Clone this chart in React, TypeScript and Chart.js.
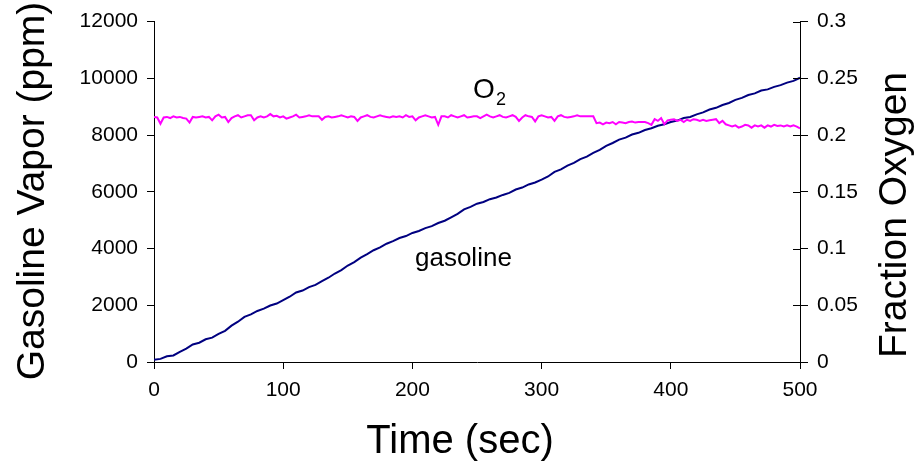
import React, { useEffect, useRef } from "react";
import { Chart, registerables } from "chart.js";

Chart.register(...registerables);

// Time axis (seconds)
const timeGasoline: number[] = Array.from({ length: 101 }, (_, i) => i * 5);
const gasolinePpm: number[] = [
  80, 110, 200, 230, 360, 470, 620, 680, 800, 860,
  990, 1100, 1280, 1420, 1590, 1680, 1800, 1880, 1990, 2060,
  2180, 2300, 2450, 2520, 2640, 2720, 2850, 2970, 3120, 3240,
  3400, 3520, 3680, 3800, 3940, 4040, 4170, 4260, 4370, 4440,
  4550, 4620, 4720, 4790, 4900, 4980, 5100, 5220, 5380, 5470,
  5580, 5640, 5740, 5800, 5890, 5960, 6080, 6150, 6260, 6330,
  6430, 6540, 6700, 6790, 6920, 7020, 7150, 7240, 7370, 7480,
  7620, 7720, 7840, 7910, 8020, 8080, 8180, 8240, 8330, 8380,
  8460, 8510, 8600, 8640, 8730, 8800, 8900, 8960, 9060, 9130,
  9240, 9310, 9410, 9470, 9570, 9610, 9700, 9760, 9850, 9910,
  10020,
];

const timeOxygen: number[] = Array.from({ length: 201 }, (_, i) => i * 2.5);
const fractionOxygen: number[] = [
  0.216, 0.2155, 0.210, 0.2155, 0.216, 0.215, 0.2165, 0.2155, 0.216, 0.215,
  0.2145, 0.211, 0.216, 0.2155, 0.216, 0.2165, 0.2155, 0.216, 0.213, 0.2165,
  0.218, 0.2155, 0.216, 0.2115, 0.215, 0.2165, 0.2175, 0.2155, 0.2165, 0.2175,
  0.2175, 0.213, 0.2155, 0.2165, 0.2155, 0.2165, 0.2185, 0.2165, 0.217, 0.2155,
  0.2165, 0.2145, 0.2155, 0.2165, 0.218, 0.2155, 0.216, 0.2165, 0.2175, 0.2165,
  0.2165, 0.2165, 0.2135, 0.216, 0.2165, 0.2155, 0.216, 0.2165, 0.2175, 0.2165,
  0.2155, 0.2165, 0.216, 0.2125, 0.2155, 0.2165, 0.2175, 0.216, 0.2155, 0.2165,
  0.2175, 0.2165, 0.216, 0.2155, 0.2165, 0.216, 0.2165, 0.2155, 0.2175, 0.216,
  0.2165, 0.213, 0.2155, 0.2165, 0.2175, 0.2165, 0.2155, 0.216, 0.209, 0.2165,
  0.2165, 0.2155, 0.2175, 0.2165, 0.2155, 0.2165, 0.2175, 0.2155, 0.216, 0.2165,
  0.2165, 0.215, 0.2165, 0.218, 0.2165, 0.2155, 0.2165, 0.2175, 0.216, 0.2155,
  0.2165, 0.2175, 0.216, 0.2125, 0.2155, 0.2175, 0.2165, 0.216, 0.212, 0.2165,
  0.2175, 0.2165, 0.2155, 0.216, 0.2125, 0.2165, 0.2175, 0.216, 0.2155, 0.216,
  0.2165, 0.2175, 0.2165, 0.2165, 0.2165, 0.2165, 0.2165, 0.2105, 0.211, 0.2095,
  0.211, 0.2105, 0.2115, 0.2095, 0.2115, 0.211, 0.2105, 0.2115, 0.212, 0.211,
  0.2115, 0.2115, 0.2115, 0.2105, 0.209, 0.214, 0.2125, 0.215, 0.2095, 0.213,
  0.2135, 0.214, 0.2125, 0.2135, 0.2115, 0.2135, 0.2125, 0.214, 0.2135, 0.2125,
  0.2135, 0.2125, 0.213, 0.2135, 0.214, 0.2105, 0.2125, 0.2095, 0.2085, 0.2075,
  0.2085, 0.2065, 0.2075, 0.209, 0.2085, 0.2065, 0.2085, 0.2075, 0.2085, 0.2065,
  0.2085, 0.2075, 0.209, 0.208, 0.2085, 0.2075, 0.2085, 0.2075, 0.2085, 0.2075,
  0.206,
];

const xTickLabels = ["0", "100", "200", "300", "400", "500"];
const yTickLabels = ["0", "2000", "4000", "6000", "8000", "10000", "12000"];
const y1TickLabels = ["0", "0.05", "0.1", "0.15", "0.2", "0.25", "0.3"];

const xTitle = "Time (sec)";
const yTitle = "Gasoline Vapor (ppm)";
const y1Title = "Fraction Oxygen";

const FONT = "'Liberation Sans', Arial, sans-serif";

export default function App() {
  const ref = useRef<HTMLCanvasElement | null>(null);

  useEffect(() => {
    document.body.style.margin = "0";
    const canvas = ref.current;
    if (!canvas) return;

    const overlay = {
      id: "overlay",
      afterDraw(chart: any) {
        const ctx = chart.ctx;
        const { chartArea } = chart;
        const x = chart.scales.x;
        const y = chart.scales.y;
        const y1 = chart.scales.y1;
        ctx.save();
        // inward ticks on right axis
        ctx.strokeStyle = "#000";
        ctx.lineWidth = 1;
        y1.ticks.forEach((t: any) => {
          const py = Math.round(y1.getPixelForValue(t.value)) + 0.5;
          ctx.beginPath();
          ctx.moveTo(chartArea.right - 7, py);
          ctx.lineTo(chartArea.right, py);
          ctx.stroke();
        });
        ctx.fillStyle = "#000";
        // series labels
        ctx.textBaseline = "alphabetic";
        ctx.textAlign = "left";
        ctx.font = `28px ${FONT}`;
        const ox = x.getPixelForValue(247);
        const oy = y1.getPixelForValue(0.2325);
        ctx.fillText("O", ox, oy);
        const ow = ctx.measureText("O").width;
        ctx.font = `18px ${FONT}`;
        ctx.fillText("2", ox + ow + 1, oy + 7);
        ctx.font = `26px ${FONT}`;
        ctx.fillText("gasoline", x.getPixelForValue(202), y.getPixelForValue(3400));
        // axis titles
        ctx.font = `40px ${FONT}`;
        ctx.textAlign = "center";
        ctx.fillText(xTitle, 460, 453);
        ctx.font = `39px ${FONT}`;
        ctx.save();
        ctx.translate(44, 191);
        ctx.rotate(-Math.PI / 2);
        ctx.fillText(yTitle, 0, 0);
        ctx.restore();
        ctx.save();
        ctx.translate(906, 215);
        ctx.rotate(-Math.PI / 2);
        ctx.fillText(y1Title, 0, 0);
        ctx.restore();
        ctx.restore();
      },
    };

    const tickFont = { family: FONT, size: 21 };

    const chart = new Chart(canvas, {
      type: "line",
      data: {
        datasets: [
          {
            label: "O2",
            data: timeOxygen.map((t, i) => ({ x: t, y: fractionOxygen[i] })),
            borderColor: "#FF00FF",
            borderWidth: 2,
            pointRadius: 0,
            tension: 0,
            yAxisID: "y1",
          },
          {
            label: "gasoline",
            data: timeGasoline.map((t, i) => ({ x: t, y: gasolinePpm[i] })),
            borderColor: "#000080",
            borderWidth: 2,
            pointRadius: 0,
            tension: 0,
            yAxisID: "y",
          },
        ],
      },
      options: {
        responsive: false,
        animation: false,
        events: [],
        layout: { padding: { top: 20, left: 0, right: 0, bottom: 0 } },
        plugins: { legend: { display: false }, tooltip: { enabled: false } },
        scales: {
          x: {
            type: "linear",
            position: "bottom",
            min: 0,
            max: 500,
            ticks: {
              stepSize: 100,
              color: "#000",
              font: tickFont,
              padding: 9,
              maxRotation: 0,
              callback: (_v: any, i: number) => xTickLabels[i],
            },
            grid: { drawOnChartArea: false, drawTicks: true, tickLength: 7, color: "#000" },
            border: { color: "#000", width: 1 },
            afterFit: (s: any) => {
              s.height = 102;
            },
          },
          y: {
            type: "linear",
            position: "left",
            min: 0,
            max: 12000,
            ticks: {
              stepSize: 2000,
              color: "#000",
              font: tickFont,
              padding: 9,
              callback: (_v: any, i: number) => yTickLabels[i],
            },
            grid: { drawOnChartArea: false, drawTicks: true, tickLength: 7, color: "#000" },
            border: { color: "#000", width: 1 },
            afterFit: (s: any) => {
              s.width = 154;
            },
          },
          y1: {
            type: "linear",
            position: "right",
            min: 0,
            max: 0.3,
            ticks: {
              stepSize: 0.05,
              color: "#000",
              font: tickFont,
              padding: 9,
              callback: (_v: any, i: number) => y1TickLabels[i],
            },
            grid: { drawOnChartArea: false, drawTicks: true, tickLength: 8, color: "#000" },
            border: { color: "#000", width: 1 },
            afterFit: (s: any) => {
              s.width = 114;
            },
          },
        },
      },
      plugins: [overlay],
    });

    return () => chart.destroy();
  }, []);

  return (
    <div style={{ position: "absolute", left: 0, top: 0, width: 914, height: 464, background: "#fff" }}>
      <canvas ref={ref} width={914} height={464} style={{ width: 914, height: 464 }} />
    </div>
  );
}
